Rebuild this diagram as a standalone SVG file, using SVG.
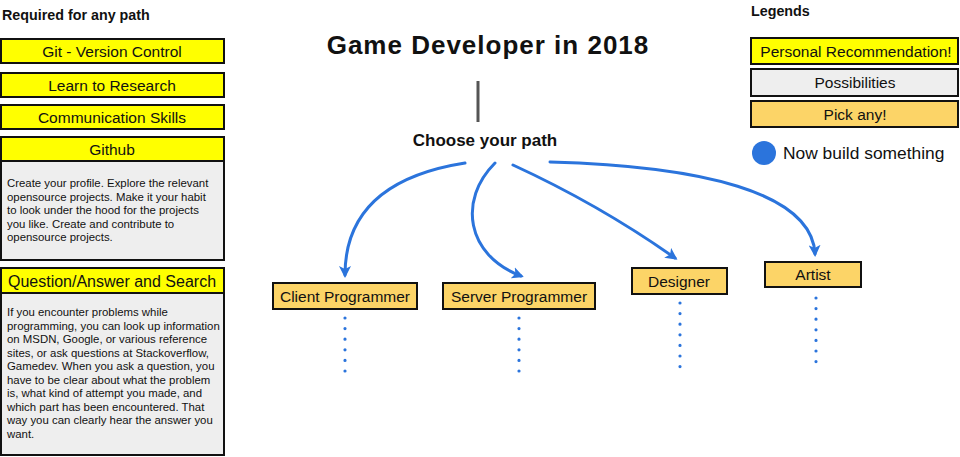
<svg xmlns="http://www.w3.org/2000/svg" width="960" height="457" viewBox="0 0 960 457">
<style>
text{font-family:"Liberation Sans",Arial,sans-serif;fill:#111}
.hd{font-weight:bold;font-size:14.3px}
.yel{fill:#ffff00;stroke:#111;stroke-width:2}
.gry{fill:#eeeeee;stroke:#111;stroke-width:2}
.org{fill:#fcd467;stroke:#111;stroke-width:2}
.lbl{font-size:15.5px;text-anchor:middle}
.body{font-size:11.4px}
.con{fill:none;stroke:#2b74dc;stroke-width:3;stroke-linecap:round}
.dot{fill:none;stroke:#2b74dc;stroke-width:3.2;stroke-linecap:round;stroke-dasharray:0 10.6}
</style>
<defs>
<marker id="ah" viewBox="0 0 12 12" refX="9" refY="6" markerWidth="12" markerHeight="12" markerUnits="userSpaceOnUse" orient="auto">
<path d="M0,0 L12,6 L0,12 L3,6 Z" fill="#2b74dc"/>
</marker>
</defs>
<rect width="960" height="457" fill="#ffffff"/>

<g id="left-title"><text class="hd" x="2" y="20">Required for any path</text></g>
<g id="git"><rect class="yel" x="1" y="39" width="223" height="24"/><text class="lbl" x="112" y="56.5">Git - Version Control</text></g>
<g id="research"><rect class="yel" x="1" y="73" width="223" height="24"/><text class="lbl" x="112" y="90.5">Learn to Research</text></g>
<g id="communication"><rect class="yel" x="1" y="105" width="223" height="24"/><text class="lbl" x="112" y="122.5">Communication Skills</text></g>
<g id="github"><rect class="yel" x="1" y="137" width="223" height="24"/><text class="lbl" x="112" y="154.5">Github</text></g>
<g id="github-desc"><rect class="gry" x="1" y="161" width="223" height="99"/>
<text class="body" x="7" y="187">Create your profile. Explore the relevant</text>
<text class="body" x="7" y="200.5">opensource projects. Make it your habit</text>
<text class="body" x="7" y="214">to look under the hood for the projects</text>
<text class="body" x="7" y="227.5">you like. Create and contribute to</text>
<text class="body" x="7" y="241">opensource projects.</text>
</g>
<g id="qa"><rect class="yel" x="1" y="268" width="223" height="25"/><text class="lbl" x="112" y="286.5" style="font-size:16px">Question/Answer and Search</text></g>
<g id="qa-desc"><rect class="gry" x="1" y="293" width="223" height="162"/>
<text class="body" x="7" y="316">If you encounter problems while</text>
<text class="body" x="7" y="329.5">programming, you can look up information</text>
<text class="body" x="7" y="343">on MSDN, Google, or various reference</text>
<text class="body" x="7" y="356.5">sites, or ask questions at Stackoverflow,</text>
<text class="body" x="7" y="370">Gamedev. When you ask a question, you</text>
<text class="body" x="7" y="383.5">have to be clear about what the problem</text>
<text class="body" x="7" y="397">is, what kind of attempt you made, and</text>
<text class="body" x="7" y="410.5">which part has been encountered. That</text>
<text class="body" x="7" y="424">way you can clearly hear the answer you</text>
<text class="body" x="7" y="437.5">want.</text>
</g>

<g id="title"><text x="488" y="54" style="font-size:26px;font-weight:bold;letter-spacing:1px" text-anchor="middle">Game Developer in 2018</text></g>
<g id="stem"><line x1="478" y1="81" x2="478" y2="122" stroke="#555" stroke-width="3"/></g>
<g id="choose"><text x="485" y="146" style="font-size:17px;font-weight:bold" text-anchor="middle">Choose your path</text></g>

<g id="connectors">
<path class="con" d="M465,163 C395,174 345,205 345,275" marker-end="url(#ah)"/>
<path class="con" d="M495,163 C458,200 466,255 521,276" marker-end="url(#ah)"/>
<path class="con" d="M513,165 Q600,205 675,258" marker-end="url(#ah)"/>
<path class="con" d="M550,162 C700,166 812,192 815,254" marker-end="url(#ah)"/>
<path class="dot" d="M345,318 V373"/>
<path class="dot" d="M519,318 V373"/>
<path class="dot" d="M680,303 V368"/>
<path class="dot" d="M816,298 V362.5"/>
</g>

<g id="client"><rect class="org" x="273" y="283" width="144" height="26"/><text class="lbl" x="345" y="301.5">Client Programmer</text></g>
<g id="server"><rect class="org" x="443" y="283" width="152" height="26"/><text class="lbl" x="519" y="301.5">Server Programmer</text></g>
<g id="designer"><rect class="org" x="632" y="268" width="95" height="26"/><text class="lbl" x="679" y="286.5">Designer</text></g>
<g id="artist"><rect class="org" x="765" y="262" width="96" height="25"/><text class="lbl" x="813" y="280">Artist</text></g>

<g id="legend-title"><text class="hd" x="751" y="16">Legends</text></g>
<g id="legend-rec"><rect class="yel" x="751" y="38" width="207" height="26"/><text class="lbl" x="856" y="56.5">Personal Recommendation!</text></g>
<g id="legend-pos"><rect class="gry" x="751" y="69" width="207" height="27"/><text class="lbl" x="855" y="87.5">Possibilities</text></g>
<g id="legend-pick"><rect class="org" x="751" y="101" width="207" height="26"/><text class="lbl" x="855" y="119.5">Pick any!</text></g>
<g id="legend-build"><circle cx="764" cy="153" r="12" fill="#2b74dc"/><text x="783" y="159" style="font-size:17.4px">Now build something</text></g>
</svg>
